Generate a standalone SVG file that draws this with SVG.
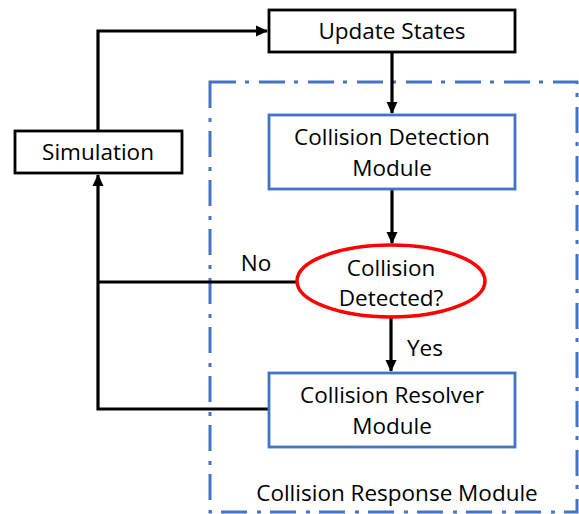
<svg xmlns="http://www.w3.org/2000/svg" width="579" height="514" viewBox="0 0 579 514">
<style>
text{font-family:"Open Sans","Noto Sans",sans-serif;font-size:22.5px;fill:#000;text-anchor:middle}
.bk{fill:#fff;stroke:#000;stroke-width:2.8}
.bl{fill:#fff;stroke:#4472C4;stroke-width:2.8}
.conn{fill:none;stroke:#000;stroke-width:3.2}
</style>
<defs>
<marker id="ah" markerWidth="12" markerHeight="12" refX="11" refY="6" orient="auto" markerUnits="userSpaceOnUse">
<path d="M0,0.5 L12,6 L0,11.5 z" fill="#000"/>
</marker>
</defs>
<g id="container">
<rect x="210" y="82" width="367" height="430" fill="none" stroke="#4472C4" stroke-width="3" stroke-dasharray="26 9 4 10"/>
<text x="397" y="501">Collision Response Module</text>
</g>
<g id="connectors">
<path class="conn" d="M98,130 V31 H267" marker-end="url(#ah)"/>
<path class="conn" d="M392,52 V113" marker-end="url(#ah)"/>
<path class="conn" d="M392,190 V243" marker-end="url(#ah)"/>
<path class="conn" d="M391,318 V371" marker-end="url(#ah)"/>
<path class="conn" d="M297,282 H98"/>
<path class="conn" d="M269,409 H98 V175" marker-end="url(#ah)"/>
<text x="256" y="271">No</text>
<text x="425" y="356">Yes</text>
</g>
<g id="update">
<rect class="bk" x="269" y="10" width="246" height="42"/>
<text x="392" y="39">Update States</text>
</g>
<g id="simulation">
<rect class="bk" x="15" y="131" width="167" height="42"/>
<text x="98" y="160">Simulation</text>
</g>
<g id="detection">
<rect class="bl" x="269" y="115" width="246" height="74"/>
<text x="392" y="145">Collision Detection</text>
<text x="392" y="176">Module</text>
</g>
<g id="decision">
<ellipse cx="391" cy="281" rx="94" ry="36" fill="#fff" stroke="#FF0000" stroke-width="3.5"/>
<text x="391" y="276">Collision</text>
<text x="391" y="306">Detected?</text>
</g>
<g id="resolver">
<rect class="bl" x="269" y="373" width="246" height="74"/>
<text x="392" y="403">Collision Resolver</text>
<text x="392" y="434">Module</text>
</g>
</svg>
